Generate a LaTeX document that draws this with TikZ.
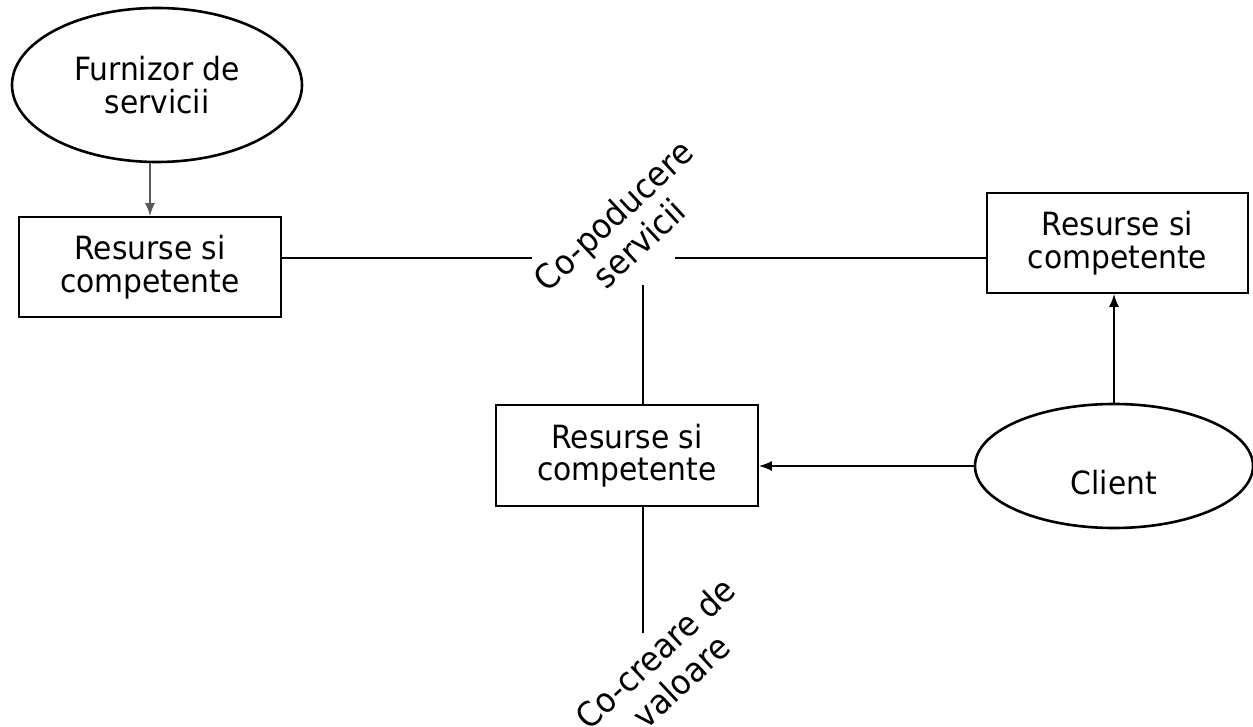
\documentclass[tikz,border=0pt]{standalone}
\usepackage{fontspec}
\setmainfont{DejaVu Sans}[FakeStretch=0.93]
\usetikzlibrary{shapes.geometric,arrows.meta,calc}

\tikzset{
  every node/.style={font=\fontsize{32}{32.5}\selectfont, align=center},
  oval/.style={ellipse, draw, line width=2.6pt, inner sep=0pt},
  resbox/.style={rectangle, draw, line width=1.8pt, inner sep=0pt},
  tag/.style={font=\fontsize{34}{38}\selectfont, rotate=43, inner sep=0pt},
  link/.style={line width=2.2pt},
  thinlink/.style={line width=1.8pt},
  arr/.style={line width=1.7pt, -{Latex[length=13pt,width=10pt]}},
  greyarr/.style={arr, draw=black!65},
}

\begin{document}
\begin{tikzpicture}[x=1pt,y=1pt]
  % canvas: 1253 x 726, origin bottom-left
  \useasboundingbox (0,0) rectangle (1253,726);
  \clip (0,0) rectangle (1253,726);

  % actors
  \node[oval, minimum width=290pt, minimum height=154pt] (furn) at (157,641) {Furnizor de\\servicii};
  \node[oval, minimum width=278pt, minimum height=124pt] (client) at (1114,260) {};
  \node (clientname) at ($(client.center)+(0,-17)$) {Client};

  % resources and competences
  \node[resbox, minimum width=262pt, minimum height=100pt] (lbox) at (150,459) {Resurse si\\competente};
  \node[resbox, minimum width=261pt, minimum height=100pt] (rbox) at (1117.5,483) {Resurse si\\competente};
  \node[resbox, minimum width=262pt, minimum height=101pt] (mbox) at (627,270.5) {Resurse si\\competente};

  % rotated labels
  \node[tag] (coprod) at (626,497) {Co-poducere\\servicii};
  \node[tag] (cocre) at (668,59) {Co-creare de\\valoare};

  % line ends around the co-production label
  \coordinate (gapL) at (532,468);
  \coordinate (gapR) at (675,468);
  \coordinate (vtop) at (643,441);
  \coordinate (vbot) at (643,93);

  % connectors
  \draw[greyarr] (lbox.north |- furn.south) -- (lbox.north);
  \draw[link] (lbox.east |- gapL) -- (gapL);
  \draw[link] (gapR) -- (rbox.west |- gapR);
  \draw[thinlink] (vtop) -- (vtop |- mbox.north);
  \draw[thinlink] (vtop |- mbox.south) -- (vbot);
  \draw[arr] (client.west) -- (client.west -| mbox.east);
  \draw[arr] (client.north) -- (client.north |- rbox.south);
\end{tikzpicture}
\end{document}
